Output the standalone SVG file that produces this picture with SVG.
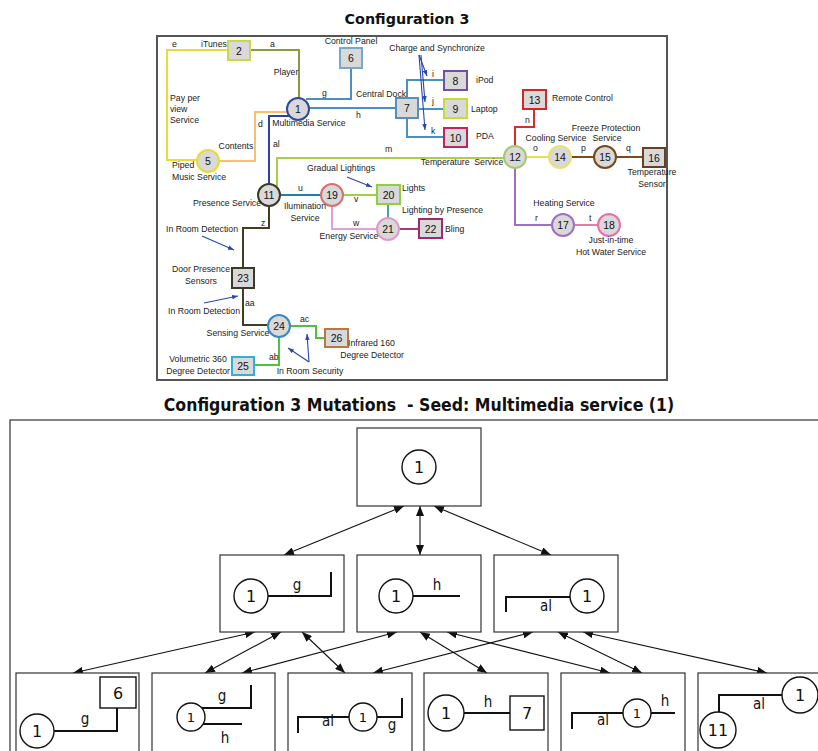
<svg xmlns="http://www.w3.org/2000/svg" width="818" height="751" viewBox="0 0 818 751">
<style>
.t{font-family:"Liberation Sans",Arial,sans-serif;font-size:8.7px;fill:#1a1a1a}
.c{text-anchor:middle}
.nl{font-family:"Liberation Sans",Arial,sans-serif;font-size:10.5px;fill:#111;text-anchor:middle}
.nd{fill:#d9d9d9;stroke-width:2}
.ln{fill:none;stroke-width:2}
.ann{fill:none;stroke:#2a46b0;stroke-width:1.1}
.ttl{font-family:"DejaVu Sans",Verdana,sans-serif;font-weight:bold;font-size:14.3px;fill:#111;text-anchor:middle}
.ttl2{font-family:"DejaVu Sans Condensed","DejaVu Sans",sans-serif;font-weight:bold;font-size:17.5px;fill:#111;text-anchor:middle}
.bx{fill:#fff;stroke:#333;stroke-width:1.2}
.bc{fill:#fff;stroke:#111;stroke-width:1.4}
.bl{fill:none;stroke:#111;stroke-width:2}
.bt{font-family:"DejaVu Sans",Verdana,sans-serif;font-size:16px;fill:#111;text-anchor:middle}
.bs{font-family:"DejaVu Sans Condensed","DejaVu Sans",sans-serif;font-size:15px;fill:#111;text-anchor:middle}
.ar{fill:none;stroke:#111;stroke-width:1.1;marker-start:url(#ah);marker-end:url(#ah)}
</style>
<defs>
<marker id="ah" viewBox="0 0 10 8" refX="10" refY="4" markerWidth="10" markerHeight="8" markerUnits="userSpaceOnUse" orient="auto-start-reverse"><path d="M0,0 L10,4 L0,8 Z" fill="#111"/></marker>
<marker id="bh" viewBox="0 0 8 6" refX="8" refY="3" markerWidth="6" markerHeight="5" markerUnits="userSpaceOnUse" orient="auto"><path d="M0,0 L8,3 L0,6 Z" fill="#2a46b0"/></marker>
</defs>
<rect width="818" height="751" fill="#fff"/>
<text class="ttl" x="407" y="24">Configuration 3</text>
<rect x="157" y="36" width="510" height="344" fill="#fff" stroke="#555" stroke-width="2"/>

<g id="top-connectors">
<path class="ln" stroke="#e6dc3a" d="M228,50 H167 V160 H197"/>
<path class="ln" stroke="#8a9a40" d="M250,50 H299 V98"/>
<path class="ln" stroke="#f5c070" d="M288,112 H255 V161 H219"/>
<path class="ln" stroke="#4a90c0" d="M351,68 V99 H306"/>
<path class="ln" stroke="#4a90c0" d="M309,108 H396"/>
<path class="ln" stroke="#3040a0" d="M290,116 H269 V184"/>
<path class="ln" stroke="#4a90c0" d="M407,98 V80 H444"/>
<path class="ln" stroke="#4a90c0" d="M418,109 H444"/>
<path class="ln" stroke="#4a90c0" d="M407,118 V137 H444"/>
<path class="ln" stroke="#a8d040" d="M277,186 V158 H504"/>
<path class="ln" stroke="#d03030" d="M534,109 V127 H515 V146"/>
<path class="ln" stroke="#e8e050" d="M526,157 H549"/>
<path class="ln" stroke="#804820" d="M571,157 H594"/>
<path class="ln" stroke="#804820" d="M616,157 H643"/>
<path class="ln" stroke="#a070c0" d="M515,168 V225 H552"/>
<path class="ln" stroke="#e878a8" d="M574,225 H598"/>
<path class="ln" stroke="#2080a8" d="M280,195 H321"/>
<path class="ln" stroke="#a0d040" d="M343,195 H377"/>
<path class="ln" stroke="#50a0a0" d="M388,204 V218"/>
<path class="ln" stroke="#e0a0d8" d="M332,206 V229 H377"/>
<path class="ln" stroke="#a83878" d="M399,229 H419"/>
<path class="ln" stroke="#404020" d="M269,206 V228 H243 V268"/>
<path class="ln" stroke="#404020" d="M243,288 V325 H268"/>
<path class="ln" stroke="#50c040" d="M290,326 H316 V338 H325"/>
<path class="ln" stroke="#50c040" d="M279,337 V365 H254"/>
<path class="ann" marker-end="url(#bh)" d="M419,55 L427,76"/>
<path class="ann" marker-end="url(#bh)" d="M421,55 L425,102"/>
<path class="ann" marker-end="url(#bh)" d="M419,55 L425,130"/>
<path class="ann" marker-end="url(#bh)" d="M347,177 L372,187"/>
<path class="ann" marker-end="url(#bh)" d="M202,236 L234,250"/>
<path class="ann" marker-end="url(#bh)" d="M204,303 L238,296"/>
<path class="ann" marker-end="url(#bh)" d="M309,362 L307,334"/>
<path class="ann" marker-end="url(#bh)" d="M309,362 L288,348"/>
</g>

<g id="n1"><circle class="nd" cx="298" cy="109" r="11" stroke="#2f4a9a"/><text class="nl" x="298" y="113">1</text></g>
<g id="n2"><rect class="nd" x="228" y="41" width="22" height="19" stroke="#c8d84a"/><text class="nl" x="239" y="54.5">2</text></g>
<g id="n5"><circle class="nd" cx="208" cy="161" r="11" stroke="#e8dc30"/><text class="nl" x="208" y="165">5</text></g>
<g id="n6"><rect class="nd" x="340" y="48" width="22" height="20" stroke="#7aa6c8"/><text class="nl" x="351" y="62">6</text></g>
<g id="n7"><rect class="nd" x="396" y="98" width="22" height="20" stroke="#5a8fb8"/><text class="nl" x="407" y="112">7</text></g>
<g id="n8"><rect class="nd" x="444" y="71" width="23" height="19" stroke="#7050a0"/><text class="nl" x="455.5" y="84.5">8</text></g>
<g id="n9"><rect class="nd" x="444" y="99" width="23" height="19" stroke="#c8dc30"/><text class="nl" x="455.5" y="112.5">9</text></g>
<g id="n10"><rect class="nd" x="444" y="128" width="23" height="19" stroke="#c8205a"/><text class="nl" x="455.5" y="141.5">10</text></g>
<g id="n11"><circle class="nd" cx="269" cy="195" r="11" stroke="#3a3a28"/><text class="nl" x="269" y="199">11</text></g>
<g id="n12"><circle class="nd" cx="515" cy="157" r="11" stroke="#a8c870"/><text class="nl" x="515" y="161">12</text></g>
<g id="n13"><rect class="nd" x="523" y="90" width="23" height="19" stroke="#d02828"/><text class="nl" x="534.5" y="103.5">13</text></g>
<g id="n14"><circle class="nd" cx="560" cy="157" r="11" stroke="#e8e070"/><text class="nl" x="560" y="161">14</text></g>
<g id="n15"><circle class="nd" cx="605" cy="157" r="11" stroke="#7a4818"/><text class="nl" x="605" y="161">15</text></g>
<g id="n16"><rect class="nd" x="643" y="148" width="22" height="19" stroke="#6a4020"/><text class="nl" x="654" y="161.5">16</text></g>
<g id="n17"><circle class="nd" cx="563" cy="225" r="11" stroke="#a070c8"/><text class="nl" x="563" y="229">17</text></g>
<g id="n18"><circle class="nd" cx="609" cy="225" r="11" stroke="#e870a8"/><text class="nl" x="609" y="229">18</text></g>
<g id="n19"><circle class="nd" cx="332" cy="195" r="11" stroke="#d87070"/><text class="nl" x="332" y="199">19</text></g>
<g id="n20"><rect class="nd" x="377" y="185" width="23" height="19" stroke="#90d040"/><text class="nl" x="388.5" y="198.5">20</text></g>
<g id="n21"><circle class="nd" cx="388" cy="229" r="11" stroke="#e098d0"/><text class="nl" x="388" y="233">21</text></g>
<g id="n22"><rect class="nd" x="419" y="219" width="23" height="19" stroke="#a02870"/><text class="nl" x="430.5" y="232.5">22</text></g>
<g id="n23"><rect class="nd" x="232" y="268" width="22" height="20" stroke="#3a3a28"/><text class="nl" x="243" y="282">23</text></g>
<g id="n24"><circle class="nd" cx="279" cy="326" r="11" stroke="#3a88c0"/><text class="nl" x="279" y="330">24</text></g>
<g id="n25"><rect class="nd" x="232" y="357" width="22" height="18" stroke="#30b0d8"/><text class="nl" x="243" y="370">25</text></g>
<g id="n26"><rect class="nd" x="325" y="329" width="23" height="18" stroke="#b87840"/><text class="nl" x="336.5" y="342">26</text></g>

<g id="top-labels">
<text class="t c" x="214" y="47">iTunes</text>
<text class="t" x="172" y="47">e</text>
<text class="t" x="270" y="47">a</text>
<text class="t c" x="351" y="44">Control Panel</text>
<text class="t c" x="286" y="75">Player</text>
<text class="t c" x="437" y="51">Charge and Synchronize</text>
<text class="t" x="322" y="96">g</text>
<text class="t c" x="381" y="97">Central Dock</text>
<text class="t" x="476" y="83">iPod</text>
<text class="t" x="471" y="112">Laptop</text>
<text class="t" x="476" y="139">PDA</text>
<text class="t" x="432" y="77">i</text>
<text class="t" x="432" y="104">j</text>
<text class="t" x="431" y="134">k</text>
<text class="t" x="356" y="118">h</text>
<text class="t c" x="309" y="126">Multimedia Service</text>
<text class="t" x="170" y="101">Pay per</text>
<text class="t" x="170" y="112">view</text>
<text class="t" x="170" y="123">Service</text>
<text class="t" x="258" y="127">d</text>
<text class="t" x="273" y="147">al</text>
<text class="t c" x="236" y="149">Contents</text>
<text class="t" x="385" y="152">m</text>
<text class="t" x="552" y="101">Remote Control</text>
<text class="t" x="525" y="123">n</text>
<text class="t c" x="556" y="141">Cooling Service</text>
<text class="t c" x="606" y="131">Freeze Protection</text>
<text class="t c" x="607" y="141">Service</text>
<text class="t" x="533" y="151">o</text>
<text class="t" x="581" y="151">p</text>
<text class="t" x="626" y="151">q</text>
<text class="t c" x="462" y="165" xml:space="preserve">Temperature  Service</text>
<text class="t c" x="652" y="175">Temperature</text>
<text class="t c" x="652" y="187">Sensor</text>
<text class="t" x="172" y="168">Piped</text>
<text class="t" x="172" y="180">Music Service</text>
<text class="t c" x="341" y="171">Gradual Lightings</text>
<text class="t" x="402" y="191">Lights</text>
<text class="t c" x="227" y="206">Presence Service</text>
<text class="t" x="298" y="191">u</text>
<text class="t" x="354" y="202">v</text>
<text class="t c" x="305" y="209">Ilumination</text>
<text class="t c" x="305" y="221">Service</text>
<text class="t" x="402" y="213">Lighting by Presence</text>
<text class="t" x="353" y="226">w</text>
<text class="t c" x="349" y="239">Energy Service</text>
<text class="t" x="445" y="232">Bling</text>
<text class="t c" x="564" y="206">Heating Service</text>
<text class="t" x="535" y="221">r</text>
<text class="t" x="589" y="221">t</text>
<text class="t c" x="611" y="243">Just-in-time</text>
<text class="t c" x="611" y="255">Hot Water Service</text>
<text class="t c" x="202" y="232">In Room Detection</text>
<text class="t" x="261" y="226">z</text>
<text class="t c" x="201" y="272">Door Presence</text>
<text class="t c" x="201" y="284">Sensors</text>
<text class="t" x="245" y="306">aa</text>
<text class="t c" x="204" y="314">In Room Detection</text>
<text class="t c" x="238" y="336">Sensing Service</text>
<text class="t" x="300" y="322">ac</text>
<text class="t" x="348" y="346">Infrared 160</text>
<text class="t c" x="372" y="358">Degree Detector</text>
<text class="t c" x="198" y="362">Volumetric 360</text>
<text class="t c" x="198" y="374">Degree Detector</text>
<text class="t" x="269" y="360">ab</text>
<text class="t c" x="310" y="374">In Room Security</text>
</g>

<text class="ttl2" x="419" y="411" xml:space="preserve">Configuration 3 Mutations  - Seed: Multimedia service (1)</text>
<rect x="10" y="420" width="820" height="345" fill="none" stroke="#333" stroke-width="1.2"/>

<g id="mutation-connectors">
<path class="ar" d="M404,506 L284,555"/>
<path class="ar" d="M420,506 L420,555"/>
<path class="ar" d="M434,506 L551,555"/>
<path class="ar" d="M255,632 L73,673"/>
<path class="ar" d="M281,632 L205,673"/>
<path class="ar" d="M302,632 L345,673"/>
<path class="ar" d="M397,632 L242,673"/>
<path class="ar" d="M420,632 L487,673"/>
<path class="ar" d="M447,632 L610,673"/>
<path class="ar" d="M533,632 L373,673"/>
<path class="ar" d="M558,632 L642,673"/>
<path class="ar" d="M583,632 L767,673"/>
</g>

<g id="m0"><rect class="bx" x="357" y="428" width="124" height="78"/><circle class="bc" cx="419" cy="467" r="17"/><text class="bt" x="419" y="473">1</text></g>

<g id="m-g"><rect class="bx" x="220" y="555" width="124" height="77"/><circle class="bc" cx="251" cy="596" r="17"/><text class="bt" x="251" y="602">1</text><path class="bl" d="M268,596 H331 V572"/><text class="bs" x="297" y="590">g</text></g>
<g id="m-h"><rect class="bx" x="357" y="555" width="124" height="77"/><circle class="bc" cx="396" cy="596" r="17"/><text class="bt" x="396" y="602">1</text><path class="bl" d="M413,596 H460"/><text class="bs" x="437" y="590">h</text></g>
<g id="m-al"><rect class="bx" x="494" y="555" width="124" height="77"/><circle class="bc" cx="587" cy="596" r="17"/><text class="bt" x="587" y="602">1</text><path class="bl" d="M570,597 H506 V612"/><text class="bs" x="546" y="611">al</text></g>

<g id="m-g6"><rect class="bx" x="16" y="673" width="123" height="90"/><rect class="bc" x="100" y="677" width="36" height="31"/><text class="bt" x="118" y="699">6</text><circle class="bc" cx="37" cy="731" r="17"/><text class="bt" x="37" y="737">1</text><path class="bl" d="M54,731 H117 V708"/><text class="bs" x="85" y="724">g</text></g>
<g id="m-gh"><rect class="bx" x="152" y="673" width="123" height="90"/><circle class="bc" cx="191" cy="717" r="14"/><text class="bt" x="191" y="722" style="font-size:13px">1</text><path class="bl" d="M202,708 H251 V685"/><text class="bs" x="222" y="701">g</text><path class="bl" d="M203,724 H242"/><text class="bs" x="225" y="743">h</text></g>
<g id="m-alg"><rect class="bx" x="288" y="673" width="124" height="90"/><circle class="bc" cx="363" cy="717" r="14"/><text class="bt" x="363" y="722" style="font-size:13px">1</text><path class="bl" d="M349,717 H298 V733"/><text class="bs" x="328" y="726">al</text><path class="bl" d="M377,717 H402 V698"/><text class="bs" x="392" y="730">g</text></g>
<g id="m-h7"><rect class="bx" x="424" y="673" width="124" height="90"/><circle class="bc" cx="446" cy="713" r="18"/><text class="bt" x="446" y="719">1</text><path class="bl" d="M464,713 H510"/><text class="bs" x="488" y="707">h</text><rect class="bc" x="510" y="696" width="34" height="34"/><text class="bt" x="527" y="719">7</text></g>
<g id="m-alh"><rect class="bx" x="561" y="673" width="124" height="90"/><circle class="bc" cx="637" cy="713" r="14"/><text class="bt" x="637" y="718" style="font-size:13px">1</text><path class="bl" d="M623,713 H572 V729"/><text class="bs" x="603" y="725">al</text><path class="bl" d="M651,713 H675"/><text class="bs" x="665" y="706">h</text></g>
<g id="m-al11"><rect class="bx" x="698" y="673" width="130" height="90"/><circle class="bc" cx="800" cy="695" r="18"/><text class="bt" x="800" y="701">1</text><path class="bl" d="M782,695 H719 V712"/><text class="bs" x="759" y="709">al</text><circle class="bc" cx="718" cy="730" r="18"/><text class="bt" x="718" y="736">11</text></g>
</svg>
